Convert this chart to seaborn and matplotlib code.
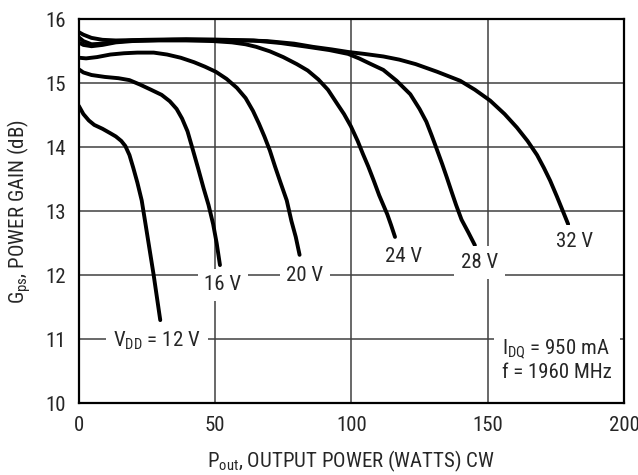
import numpy as np
import pandas as pd
import matplotlib
matplotlib.use('Agg')
import matplotlib.pyplot as plt
import seaborn as sns
import warnings as wr
wr.filterwarnings('ignore')

# gain curves (Pout in W, Gps in dB)
w_12 = [0, 1.7, 3.7, 5.7, 8.7, 11.6, 13.6, 15.6, 17.1, 18.6, 20.0, 21.5, 23.1, 24.5, 26.0,
        27.5, 28.7, 29.9]
g_12 = [14.65, 14.52, 14.42, 14.35, 14.29, 14.22, 14.17, 14.1, 14.02, 13.88, 13.68, 13.45,
        13.17, 12.8, 12.4, 12.0, 11.65, 11.3]

w_16 = [0, 1.7, 4.7, 9.6, 14.6, 18.6, 22.5, 26.5, 30.4, 33.4, 35.9, 37.9, 39.9, 41.8, 43.8,
        45.8, 47.6, 49.3, 50.6, 51.8]
g_16 = [15.22, 15.17, 15.13, 15.1, 15.08, 15.05, 14.98, 14.9, 14.82, 14.72, 14.6, 14.45,
        14.25, 13.97, 13.67, 13.36, 13.1, 12.8, 12.5, 12.16]

w_20 = [0, 2.7, 6.7, 11.6, 16.6, 21.5, 27.5, 32.4, 37.4, 42.3, 46.3, 50.3, 54.2, 58.0, 61.2,
        63.9, 66.1, 68.1, 70.1, 72.0, 74.0, 76.3, 78.0, 79.6, 81.0]
g_20 = [15.40, 15.39, 15.41, 15.45, 15.47, 15.48, 15.48, 15.45, 15.40, 15.33, 15.26, 15.18,
        15.07, 14.93, 14.77, 14.57, 14.37, 14.17, 13.95, 13.7, 13.45, 13.17, 12.85, 12.6, 12.32]

w_24 = [0, 1.7, 4.7, 8.7, 13.6, 19.6, 29.5, 39.4, 49.3, 56.2, 61.2, 65.1, 70.1, 75.0, 80.0,
        84.0, 87.9, 91.4, 94.8, 97.3, 99.8, 102.3, 104.2, 106.2, 108.2, 110.2, 111.7, 113.2,
        114.6, 116.0]
g_24 = [15.64, 15.6, 15.58, 15.6, 15.64, 15.66, 15.67, 15.67, 15.66, 15.64, 15.61, 15.57,
        15.5, 15.41, 15.3, 15.2, 15.06, 14.9, 14.68, 14.52, 14.33, 14.1, 13.9, 13.7, 13.48,
        13.25, 13.1, 12.95, 12.78, 12.6]

w_28 = [0, 1.7, 4.7, 8.7, 13.6, 19.6, 34.4, 49.3, 64.1, 74.0, 84.0, 91.9, 98.8, 102.8, 106.7,
        111.7, 116.6, 121.6, 125.0, 127.5, 129.5, 131.5, 133.3, 135.0, 136.8, 138.4, 140.4,
        142.9, 145.3]
g_28 = [15.72, 15.66, 15.61, 15.62, 15.65, 15.67, 15.68, 15.68, 15.67, 15.63, 15.57, 15.52,
        15.46, 15.39, 15.31, 15.21, 15.04, 14.83, 14.6, 14.4, 14.18, 13.95, 13.74, 13.53,
        13.3, 13.1, 12.87, 12.67, 12.47]

w_32 = [0, 1.7, 4.7, 8.7, 13.6, 24.5, 39.4, 54.2, 69.1, 79.0, 85.9, 92.8, 98.8, 104.7, 111.7,
        117.6, 123.6, 131.5, 139.9, 145.3, 150.9, 156.2, 160.7, 164.6, 168.1, 170.6, 172.9,
        175.4, 177.6, 179.5]
g_32 = [15.8, 15.76, 15.71, 15.68, 15.67, 15.68, 15.69, 15.68, 15.66, 15.62, 15.57, 15.53,
        15.49, 15.46, 15.42, 15.37, 15.3, 15.18, 15.04, 14.9, 14.73, 14.52, 14.31, 14.1,
        13.88, 13.68, 13.48, 13.23, 13.0, 12.8]

vdd_labels = ['$V_{DD}$ = 12 V', '16 V', '20 V', '24 V', '28 V', '32 V']
label_x = [28.7, 52.9, 83.0, 119.0, 146.9, 182.0]
label_y = [10.98, 11.85, 12.0, 12.3, 12.2, 12.53]

x_ticks = [0, 50, 100, 150, 200]
y_ticks = [10, 11, 12, 13, 14, 15, 16]

curves = [(w_12, g_12), (w_16, g_16), (w_20, g_20), (w_24, g_24), (w_28, g_28), (w_32, g_32)]
frames = []
for name, (w, g) in zip(['12', '16', '20', '24', '28', '32'], curves):
    frames.append(pd.DataFrame({'pout': w, 'gain': g, 'vdd': name}))
df = pd.concat(frames, ignore_index=True)

sns.set_style("white")
plt.rcParams['font.family'] = ['Liberation Sans Narrow', 'Roboto Condensed', 'Liberation Sans', 'DejaVu Sans']
plt.rcParams['mathtext.default'] = 'regular'

fig = plt.figure(figsize=(6.38, 4.75), dpi=100)
ax = fig.add_axes([0.1234, 0.1509, 0.8547, 0.8084])

ax.grid(True, color='#404040', linewidth=1.1)
ax.set_axisbelow(True)

sns.lineplot(data=df, x='pout', y='gain', hue='vdd', units='vdd', estimator=None,
             sort=False, palette=['black'] * 6, linewidth=2.8, legend=False, ax=ax,
             zorder=3)

for txt, lx, ly in zip(vdd_labels, label_x, label_y):
    ax.text(lx, ly, txt, ha='center', va='center', fontsize=15, zorder=4,
            bbox=dict(facecolor='white', edgecolor='none', pad=5))

ax.text(155.2, 10.68, '$I_{DQ}$ = 950 mA\nf = 1960 MHz', ha='left', va='center',
        fontsize=15, linespacing=1.15, zorder=4,
        bbox=dict(facecolor='white', edgecolor='none', pad=6))

ax.set_xlim(0, 200)
ax.set_ylim(10, 16)
ax.set_xticks(x_ticks)
ax.set_yticks(y_ticks)
ax.tick_params(axis='both', length=0, labelsize=15, pad=9)
for s in ax.spines.values():
    s.set_color('black')
    s.set_linewidth(1.6)

ax.set_xlabel('$P_{out}$, OUTPUT POWER (WATTS) CW', fontsize=15, labelpad=10)
ax.set_ylabel('$G_{ps}$, POWER GAIN (dB)', fontsize=15, labelpad=9)

fig.savefig('out.png', dpi=100)
